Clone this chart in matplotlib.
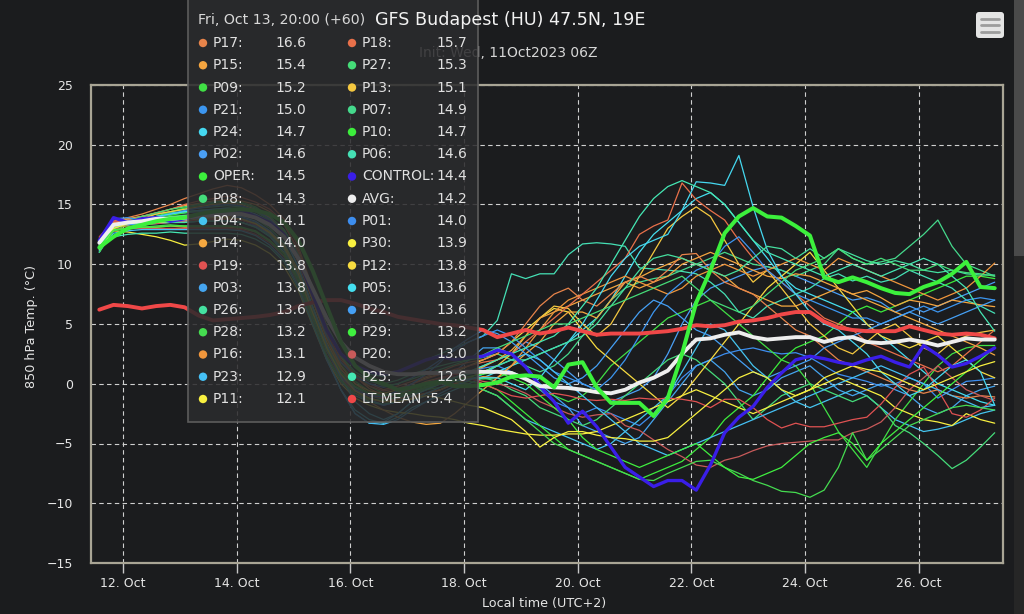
import matplotlib
matplotlib.use("Agg")
import matplotlib.pyplot as plt
import matplotlib.dates as mdates
from matplotlib.patches import Rectangle, FancyBboxPatch, Circle
from datetime import datetime, timedelta

# ---------------- data ----------------
init_local = datetime(2023, 10, 11, 8)          # 11 Oct 2023 06Z in UTC+2
lead_hours = list(range(6, 385, 6))            # +6h ... +384h
times = [init_local + timedelta(hours=h) for h in lead_hours]
tooltip_index = 9                               # +60h

P01 = [11.4, 13.6, 13.5, 13.7, 13.8, 13.8, 13.9, 14.0, 14.0, 14.0, 13.9, 13.5, 12.8, 11.6, 9.3, 6.0, 2.8, 0.5, -0.8, -1.5, -1.8, -1.5, -1.0, -0.5, 0.0, 0.5, 1.0, 1.3,
       1.5, 1.0, 0.5, -0.5, -1.5, -2.0, -2.5, -2.0, -2.5, -3.0, -3.5, -2.5, -1.0, 0.5, 1.5, 2.0, 2.5, 2.8, 3.0, 2.7, 2.5, 2.6, 2.2, 1.5, 0.8, 0.5, 0.2, -0.2, 0.0, 0.5, 0.0, -1.2, -0.5, 0.2, 0.3, 0.5]
P02 = [11.6, 13.5, 13.5, 13.8, 14.0, 14.2, 14.3, 14.4, 14.5, 14.6, 14.5, 14.1, 13.4, 12.2, 9.8, 6.5, 3.3, 1.0, -0.5, -1.3, -1.8, -1.5, -1.0, -0.5, 0.0, 0.5, 1.0, 1.5,
       2.0, 2.5, 3.5, 3.0, 2.0, 1.0, 0.0, -0.5, -1.5, -1.0, -0.5, 0.5, 2.5, 5.0, 7.0, 8.0, 8.5, 9.0, 9.5, 9.8, 9.5, 9.0, 8.5, 8.0, 7.5, 7.0, 7.2, 6.8, 6.0, 6.5, 6.0, 6.5, 7.0, 7.5, 8.0, 8.5]
P03 = [11.2, 13.2, 13.6, 13.5, 13.6, 13.6, 13.7, 13.7, 13.8, 13.8, 13.7, 13.3, 12.6, 11.5, 9.2, 6.0, 2.8, 0.6, -0.6, -1.2, -1.5, -1.2, -0.8, -0.3, 0.3, 1.0, 2.0, 3.0,
       3.0, 2.5, 1.5, 0.0, -1.0, -2.0, -3.5, -4.0, -4.5, -5.0, -4.5, -3.0, -1.5, 0.0, 1.5, 2.0, 1.0, -0.5, -1.0, -0.5, 0.5, 1.0, 1.5, 0.5, -0.5, -1.0, -0.5, 0.0, -0.5, -1.0, -2.0, -2.5, -2.0, -1.0, -0.5, -0.2]
P04 = [11.0, 13.0, 13.3, 13.5, 13.7, 13.9, 14.0, 14.0, 14.1, 14.1, 14.0, 13.6, 12.8, 11.5, 9.0, 5.5, 2.2, -0.5, -2.5, -3.3, -3.2, -2.5, -1.5, -1.0, -0.5, 0.0, 0.0, -0.5,
       -1.0, -2.0, -3.0, -3.5, -4.0, -4.5, -5.0, -5.5, -5.0, -4.0, -3.0, -2.0, -1.0, 1.0, 3.0, 5.0, 4.5, 3.0, 1.5, 0.5, -0.5, -1.5, -2.0, -1.5, -1.0, -0.5, -1.0, -2.0, -3.0, -3.5, -4.0, -3.8, -3.5, -3.0, -2.5, -2.2]
P05 = [11.6, 13.4, 13.4, 13.3, 13.4, 13.5, 13.5, 13.6, 13.6, 13.6, 13.5, 13.1, 12.3, 11.0, 8.5, 5.2, 2.0, -0.5, -2.2, -3.0, -3.3, -2.8, -2.0, -1.5, -1.0, -0.5, 0.0, 0.5,
       1.0, 1.5, 2.0, 2.5, 3.0, 3.5, 4.5, 5.5, 7.0, 9.0, 11.0, 12.5, 13.5, 14.5, 15.5, 16.0, 15.0, 13.5, 12.0, 10.5, 9.0, 8.0, 7.5, 7.0, 6.5, 6.0, 5.0, 4.0, 3.0, 2.0, 1.0, 0.0, -0.5, -1.0, -1.5, -1.8]
P06 = [11.7, 13.3, 13.7, 14.0, 14.2, 14.3, 14.4, 14.5, 14.5, 14.6, 14.6, 14.4, 13.9, 12.9, 10.9, 7.9, 4.9, 2.6, 1.4, 0.8, 0.6, 1.0, 1.5, 2.0, 2.5, 3.0, 3.5, 4.0,
       5.3, 9.2, 8.8, 9.2, 9.2, 10.8, 11.7, 11.8, 11.7, 11.5, 9.7, 9.6, 9.5, 9.4, 9.2, 8.5, 7.5, 6.0, 5.5, 6.5, 7.0, 7.5, 8.0, 8.8, 9.2, 8.6, 9.0, 8.5, 8.8, 9.5, 9.0, 8.5, 8.0, 7.0, 6.5, 5.9]
P07 = [11.8, 13.2, 13.8, 14.0, 14.2, 14.4, 14.6, 14.7, 14.8, 14.9, 14.8, 14.4, 13.7, 12.5, 10.3, 7.0, 4.0, 1.8, 0.8, 0.2, 0.0, 0.3, 0.8, 1.2, 1.5, 1.8, 2.0, 2.2,
       2.5, 2.0, 1.5, 1.0, 1.5, 2.5, 4.0, 5.5, 7.0, 8.0, 8.5, 8.8, 9.0, 9.5, 10.0, 10.5, 11.0, 10.5, 10.0, 9.8, 9.5, 9.0, 9.5, 10.0, 11.3, 10.5, 10.0, 10.2, 10.5, 11.5, 12.5, 13.7, 11.5, 10.0, 9.5, 9.0]
P08 = [11.5, 13.2, 13.4, 13.6, 13.8, 14.0, 14.1, 14.2, 14.3, 14.3, 14.2, 13.8, 13.0, 11.8, 9.5, 6.3, 3.2, 1.0, -0.3, -1.0, -1.3, -1.2, -0.8, -0.4, 0.0, 0.3, 0.5, 0.5,
       0.2, -0.5, -1.0, -2.0, -2.5, -3.0, -3.5, -3.0, -2.0, -1.0, 0.0, 1.0, 2.0, 2.5, 2.0, 1.0, 0.0, -1.5, -3.0, -2.0, -1.0, -0.5, 0.0, -0.5, -1.0, -1.5, -1.0, -2.0, -3.5, -4.1, -5.0, -6.0, -7.1, -6.4, -5.3, -4.1]
P09 = [11.2, 13.0, 13.5, 13.8, 14.0, 14.4, 14.7, 14.9, 15.1, 15.2, 15.2, 14.8, 14.0, 12.8, 10.5, 7.2, 4.0, 1.6, 0.2, -0.6, -1.0, -0.8, -0.5, -0.2, 0.0, 0.3, 0.5, 0.4,
       0.5, 1.0, 0.5, -0.5, -1.0, -1.5, -1.0, 0.0, 1.5, 2.5, 3.5, 4.5, 5.5, 6.0, 6.5, 7.0, 6.0, 5.0, 4.0, 3.0, 2.0, 1.5, 0.0, -2.0, -4.0, -5.5, -7.0, -5.0, -3.0, -1.5, 0.0, 1.5, 2.5, 3.0, 3.2, 3.2]
P10 = [11.3, 12.8, 13.3, 13.6, 13.9, 14.1, 14.3, 14.5, 14.6, 14.7, 14.7, 14.4, 13.8, 12.8, 10.8, 7.8, 4.8, 2.3, 0.8, -0.2, -0.8, -1.0, -0.8, -0.5, -0.3, 0.0, 0.2, 0.0,
       -0.5, -1.5, -2.5, -3.5, -4.5, -5.5, -6.0, -6.5, -7.0, -7.5, -8.0, -7.5, -7.0, -6.5, -5.5, -4.5, -3.0, -2.0, -1.0, 0.5, 2.0, 3.0, 3.5, 4.0, 5.0, 6.0, 6.5, 6.0, 6.5, 7.0, 7.5, 8.0, 8.5, 9.0, 9.0, 8.8]
P11 = [11.2, 12.8, 12.7, 12.5, 12.3, 12.0, 11.6, 11.7, 11.9, 12.1, 12.0, 11.6, 10.9, 9.8, 7.8, 4.9, 2.0, 0.0, -1.2, -1.8, -2.2, -2.4, -2.5, -2.7, -2.8, -3.0, -3.3, -3.5,
       -3.8, -4.0, -4.2, -4.3, -4.3, -4.2, -4.2, -4.0, -3.5, -3.0, -2.5, -2.0, -1.5, -1.0, -0.5, -1.0, -1.5, -2.0, -2.5, -2.0, -1.5, -1.0, -0.5, 0.0, 0.5, 0.0, -0.5, -1.0, -2.0, -2.5, -3.0, -3.2, -3.5, -2.5, -3.0, -3.3]
P12 = [11.6, 13.1, 13.6, 13.5, 13.5, 13.6, 13.6, 13.7, 13.7, 13.8, 13.7, 13.4, 12.7, 11.6, 9.5, 6.5, 3.5, 1.2, 0.0, -0.6, -0.8, -0.5, 0.0, 0.5, 0.8, 1.0, 1.5, 2.0,
       2.5, 3.5, 4.5, 5.5, 6.3, 6.0, 4.5, 3.0, 2.0, 1.0, 0.0, -1.0, -2.0, -1.0, 0.5, 2.0, 3.5, 5.0, 6.5, 8.0, 9.0, 10.0, 11.0, 9.5, 8.0, 6.5, 5.0, 4.0, 3.5, 3.0, 3.5, 4.0, 3.0, 2.0, 1.0, 0.5]
P13 = [12.2, 13.4, 13.6, 13.8, 14.2, 14.4, 14.6, 14.8, 15.0, 15.1, 15.0, 14.6, 13.9, 12.6, 10.2, 7.0, 3.8, 1.5, 0.0, -0.8, -1.2, -1.5, -1.2, -0.8, -0.5, 0.0, 0.5, 1.0,
       1.5, 2.5, 4.0, 5.5, 6.5, 6.3, 5.0, 4.0, 5.0, 7.0, 9.0, 11.0, 13.0, 14.0, 14.8, 14.0, 12.0, 10.0, 8.5, 9.5, 8.0, 6.5, 5.0, 4.0, 3.0, 2.5, 3.5, 4.5, 5.0, 4.0, 3.0, 2.5, 3.5, 4.0, 4.3, 4.5]
P14 = [12.0, 13.5, 13.3, 13.5, 13.6, 13.7, 13.8, 13.9, 14.0, 14.0, 14.1, 13.9, 13.4, 12.4, 10.2, 7.0, 3.8, 1.3, -0.5, -1.5, -2.2, -2.8, -3.2, -3.4, -3.3, -2.5, -1.5, -0.5,
       0.5, 1.5, 2.5, 3.5, 5.0, 6.0, 6.0, 5.5, 7.0, 8.5, 8.9, 9.5, 10.0, 10.5, 10.0, 9.5, 9.0, 8.0, 7.5, 7.0, 6.5, 6.5, 7.0, 7.5, 8.0, 7.5, 7.0, 6.5, 6.0, 5.5, 5.0, 4.5, 4.0, 3.5, 3.0, 2.4]
P15 = [12.0, 13.5, 13.8, 14.0, 14.3, 14.6, 14.9, 15.1, 15.3, 15.4, 15.3, 15.0, 14.4, 13.3, 11.2, 8.0, 4.8, 2.2, 0.6, -0.4, -1.0, -0.8, -0.3, 0.2, 0.5, 0.8, 1.0, 1.4,
       2.0, 2.8, 4.0, 5.5, 6.0, 6.5, 7.0, 7.5, 8.0, 8.5, 8.0, 8.5, 9.0, 10.0, 10.5, 11.0, 10.5, 10.0, 9.5, 9.0, 8.8, 9.2, 9.0, 8.5, 8.0, 7.5, 7.8, 7.2, 6.5, 7.0, 6.8, 6.5, 7.0, 6.8, 6.6, 6.45]
P16 = [11.9, 13.2, 13.2, 13.1, 13.1, 13.2, 13.1, 13.1, 13.1, 13.1, 13.0, 12.7, 12.0, 10.9, 8.8, 5.8, 2.9, 0.5, -0.8, -1.3, -1.5, -1.3, -1.0, -0.8, -0.5, 0.0, 0.3, 0.6,
       0.5, 1.5, 3.0, 4.5, 6.0, 7.0, 7.5, 8.0, 8.5, 9.0, 8.5, 8.0, 7.5, 8.0, 9.0, 9.5, 10.0, 9.5, 9.0, 9.5, 10.0, 10.5, 10.0, 9.5, 10.5, 10.0, 9.5, 9.0, 8.5, 8.0, 7.5, 7.0, 7.5, 8.0, 9.0, 10.1]
P17 = [11.8, 13.6, 13.9, 14.2, 14.6, 15.0, 15.5, 15.9, 16.3, 16.6, 16.4, 15.8, 15.0, 13.8, 11.5, 8.0, 4.5, 2.0, 0.8, 0.0, -0.5, -0.2, 0.2, 0.6, 1.0, 1.5, 1.8, 2.0,
       2.5, 3.5, 5.0, 6.5, 7.5, 8.0, 7.0, 6.5, 7.5, 8.5, 9.0, 8.5, 9.5, 10.8, 10.9, 9.5, 8.5, 8.0, 7.5, 6.5, 5.5, 4.5, 4.0, 3.0, 2.0, 1.5, 1.0, 0.5, 0.0, -0.5, -0.8, -0.5, -1.0, -1.2, -1.0, -1.1]
P18 = [11.5, 13.4, 13.7, 14.0, 14.3, 14.6, 15.0, 15.3, 15.5, 15.7, 15.6, 15.2, 14.6, 13.5, 11.0, 7.5, 4.2, 1.8, 0.5, -0.2, -0.6, -0.4, 0.0, 0.4, 0.8, 1.2, 1.5, 1.8,
       2.0, 2.5, 3.5, 4.5, 5.5, 6.5, 7.5, 8.5, 9.5, 10.5, 12.5, 13.2, 13.7, 16.8, 15.4, 14.5, 13.7, 12.0, 10.5, 9.5, 8.5, 7.5, 6.5, 5.5, 5.0, 4.5, 3.5, 3.0, 2.5, 2.0, 1.5, 1.0, 1.5, 2.5, 3.5, 4.5]
P19 = [12.3, 13.6, 13.4, 13.3, 13.4, 13.5, 13.6, 13.7, 13.8, 13.8, 13.7, 13.3, 12.5, 11.3, 9.0, 5.8, 2.7, 0.6, -0.5, -1.0, -1.2, -0.9, -0.5, 0.0, 0.5, 0.8, 0.5, 0.0,
       -0.5, -1.0, -1.2, -1.0, -0.8, -1.0, -1.3, -1.4, -1.3, -1.4, -1.2, -1.3, -1.2, -1.3, -1.5, -2.0, -1.3, -1.3, -2.0, -3.0, -3.7, -3.3, -3.6, -3.6, -3.3, -3.0, -2.8, -1.7, -0.3, 0.8, 1.4, -0.5, -2.5, -2.8, -2.2, -1.2]
P20 = [11.7, 13.0, 13.0, 13.0, 13.0, 13.0, 13.0, 13.0, 13.0, 13.0, 12.9, 12.5, 11.8, 10.6, 8.4, 5.3, 2.4, 0.4, -0.6, -1.0, -1.0, -0.7, -0.3, 0.1, 0.4, 0.6, 0.5, 0.2,
       0.0, -0.3, -0.8, -1.5, -2.0, -2.5, -2.8, -2.6, -2.5, -3.5, -3.9, -4.7, -5.5, -6.1, -6.8, -7.0, -6.4, -6.1, -5.6, -5.2, -5.0, -4.9, -4.8, -4.7, -4.7, -4.1, -3.8, -3.2, -2.0, -0.5, 0.5, 1.5, 0.5, -0.5, -1.0, -1.4]
P21 = [11.0, 13.8, 13.9, 13.7, 13.9, 14.2, 14.5, 14.7, 14.9, 15.0, 14.9, 14.5, 13.8, 12.6, 10.4, 7.3, 4.0, 1.8, 0.6, 0.0, -0.3, 0.0, 0.5, 1.2, 2.0, 2.8, 3.5, 4.0,
       4.5, 4.0, 3.0, 2.0, 1.0, 0.5, 0.0, -0.5, 0.5, 2.0, 4.0, 6.0, 7.5, 8.5, 9.5, 10.0, 11.5, 12.3, 11.0, 9.5, 8.5, 7.5, 7.0, 6.5, 6.0, 5.5, 5.5, 5.0, 5.5, 6.0, 6.5, 6.0, 6.5, 7.0, 7.2, 7.0]
P22 = [11.4, 13.4, 13.3, 13.4, 13.5, 13.5, 13.5, 13.6, 13.6, 13.6, 13.5, 13.2, 12.5, 11.3, 9.0, 5.8, 2.8, 0.6, -0.5, -1.0, -1.1, -0.6, 0.0, 0.8, 1.8, 3.0, 3.8, 4.5,
       4.2, 3.5, 2.5, 1.5, 0.5, 0.0, 0.5, 1.5, 3.0, 4.5, 6.0, 7.0, 6.5, 5.5, 4.5, 4.0, 3.0, 2.0, 1.0, 0.5, 1.0, 1.5, 2.0, 3.0, 3.5, 4.0, 4.5, 5.0, 5.5, 6.0, 5.5, 5.0, 5.5, 6.0, 6.5, 7.0]
P23 = [11.1, 12.6, 12.8, 12.9, 12.9, 12.9, 12.9, 12.9, 12.9, 12.9, 12.8, 12.4, 11.6, 10.4, 8.2, 5.0, 2.0, -0.5, -2.5, -3.3, -3.4, -3.0, -2.2, -1.5, -0.8, -0.2, 0.3, 0.8,
       1.5, 2.0, 2.5, 2.0, 1.0, 0.0, -1.0, -2.0, -3.0, -4.0, -5.0, -5.5, -6.0, -5.5, -5.0, -4.5, -4.0, -3.5, -3.0, -2.5, -2.0, -1.5, -1.0, -0.5, 0.0, 0.5, 1.0, 1.5, 1.0, 0.5, 0.0, -0.5, -1.0, -1.5, -2.0, -1.8]
P24 = [11.4, 13.0, 13.5, 13.8, 14.0, 14.2, 14.4, 14.5, 14.6, 14.7, 14.6, 14.2, 13.6, 12.3, 9.8, 6.5, 3.2, 0.5, -1.5, -2.5, -3.0, -2.5, -1.5, -0.8, -0.3, 0.2, 0.4, 0.5,
       0.5, 0.0, -0.5, 0.5, 2.0, 3.5, 5.0, 7.0, 9.0, 10.5, 11.5, 12.0, 12.5, 14.5, 16.9, 16.8, 16.6, 19.1, 14.8, 11.2, 9.0, 7.5, 6.0, 5.0, 4.5, 3.5, 2.5, 1.0, 0.0, -1.0, -0.5, 0.5, 1.5, 2.0, 1.0, -1.8]
P25 = [11.3, 12.3, 12.5, 12.6, 12.6, 12.7, 12.6, 12.6, 12.6, 12.6, 12.5, 12.1, 11.4, 10.2, 8.0, 5.0, 2.2, 0.2, -1.0, -1.5, -1.7, -1.5, -1.0, -0.5, 0.0, 0.5, 1.0, 1.5,
       2.0, 2.5, 3.0, 3.5, 4.0, 5.0, 6.5, 8.0, 10.0, 12.0, 14.0, 15.5, 16.5, 17.0, 16.5, 16.0, 15.0, 13.5, 12.0, 11.0, 10.5, 10.0, 9.5, 9.0, 9.5, 10.0, 9.5, 9.0, 9.5, 10.0, 10.5, 10.0, 9.0, 8.0, 6.0, 4.4]
P26 = [11.8, 13.0, 13.5, 13.4, 13.5, 13.5, 13.5, 13.6, 13.6, 13.6, 13.5, 13.1, 12.4, 11.2, 8.9, 5.8, 2.8, 0.8, -0.3, -0.8, -1.0, -0.8, -0.4, 0.0, 0.3, 0.5, 0.8, 1.0,
       1.5, 2.0, 2.0, 2.5, 3.0, 3.5, 4.0, 5.0, 6.5, 8.0, 9.5, 10.5, 10.8, 10.5, 10.0, 9.5, 9.0, 9.5, 10.5, 11.5, 11.3, 10.5, 11.3, 10.5, 11.3, 10.8, 10.3, 10.0, 10.3, 10.0, 9.5, 9.3, 9.5, 9.2, 9.1, 9.1]
P27 = [11.6, 13.3, 13.6, 14.0, 14.3, 14.6, 14.8, 15.0, 15.2, 15.3, 15.1, 14.7, 14.0, 12.9, 10.8, 7.8, 4.6, 2.3, 1.0, 0.3, -0.2, 0.0, 0.4, 0.8, 1.2, 1.6, 2.0, 2.4,
       3.0, 3.5, 4.0, 4.5, 5.0, 5.0, 5.5, 6.0, 6.5, 7.0, 7.5, 8.0, 8.5, 9.0, 8.0, 7.0, 6.5, 6.0, 6.5, 7.5, 8.5, 9.5, 10.0, 10.5, 11.3, 10.5, 10.0, 10.5, 10.0, 9.5, 9.5, 10.0, 9.5, 9.3, 9.2, 9.0]
P28 = [11.0, 12.8, 13.0, 13.1, 13.2, 13.3, 13.2, 13.2, 13.2, 13.2, 13.1, 12.7, 11.9, 10.7, 8.5, 5.4, 2.4, 0.3, -0.8, -1.3, -1.4, -1.1, -0.7, -0.3, 0.0, 0.2, 0.0, -0.5,
       -1.0, -2.0, -3.0, -4.0, -5.0, -5.5, -6.0, -6.5, -7.0, -7.5, -8.0, -8.1, -7.5, -7.0, -6.5, -6.4, -7.0, -7.5, -8.1, -8.5, -9.0, -9.1, -9.5, -8.9, -7.0, -4.1, -6.4, -5.5, -4.5, -3.5, -3.0, -2.5, -2.0, -1.8, -2.0, -2.2]
P29 = [11.5, 12.9, 13.0, 13.1, 13.1, 13.2, 13.2, 13.2, 13.2, 13.2, 13.1, 12.8, 12.0, 10.9, 8.8, 5.8, 2.9, 0.9, -0.2, -0.8, -1.0, -0.9, -0.6, -0.3, 0.0, 0.3, 0.6, 0.8,
       1.0, 0.5, 0.0, -1.0, -2.0, -3.0, -4.5, -5.5, -6.0, -6.5, -7.0, -6.5, -6.0, -5.5, -5.0, -6.0, -7.0, -7.8, -8.0, -7.5, -7.0, -6.0, -5.0, -4.5, -4.1, -5.0, -6.4, -5.0, -4.0, -3.0, -2.0, -1.0, 0.0, 1.0, 2.0, 3.0]
P30 = [11.9, 13.0, 13.4, 13.6, 13.5, 13.6, 13.7, 13.8, 13.9, 13.9, 13.8, 13.4, 12.6, 11.4, 9.2, 6.0, 3.0, 0.8, -0.6, -1.2, -1.5, -1.5, -1.3, -1.0, -1.2, -1.5, -1.8, -2.0,
       -2.5, -3.0, -4.0, -5.3, -4.5, -4.0, -4.0, -4.3, -4.5, -4.6, -4.8, -4.8, -4.5, -3.5, -2.5, -1.5, -0.5, 0.5, 1.0, 0.5, -0.5, -1.0, -0.5, 0.5, 1.0, 1.5, 1.2, 1.0, 0.5, 0.0, -0.5, 0.0, 0.5, 1.0, 1.5, 1.85]

OPER = [11.4, 12.3, 13.0, 13.3, 13.6, 13.8, 13.9, 14.2, 14.4, 14.5, 14.6, 14.5, 14.2, 13.5, 12.0, 9.5, 6.5, 3.5, 1.5, 0.5,
        0.0, -0.5, -0.3, 0.0, 0.2, -0.2, -0.2, -0.1, 0.1, 0.6, 0.7, 0.6, -0.3, 1.6, 1.8, -0.3, -1.6, -1.6, -1.6, -2.7,
        -1.2, 2.5, 6.8, 9.5, 12.6, 14.0, 14.7, 14.0, 13.9, 13.2, 12.4, 8.9, 8.5, 8.9, 8.5, 8.0, 7.6, 7.5, 8.1, 8.5,
        9.2, 10.2, 8.1, 8.0]
CONTROL = [12.0, 13.9, 13.5, 13.8, 13.9, 13.6, 13.8, 14.0, 14.3, 14.4, 14.5, 14.0, 13.5, 12.5, 10.5, 7.5, 4.5, 2.5, 1.5, 1.0,
           0.8, 1.0, 1.5, 2.0, 2.3, 2.0, 2.2, 2.3, 2.8, 2.5, 1.4, -0.2, -1.5, -3.3, -2.3, -3.6, -5.3, -7.0, -7.8, -8.6,
           -8.1, -8.1, -8.9, -6.8, -4.1, -2.8, -1.9, -0.3, 0.9, 2.0, 2.3, 2.1, 1.8, 1.6, 2.0, 2.3, 1.8, 1.4, 3.2, 2.4,
           1.4, 1.7, 2.3, 3.0]
AVG = [11.8, 13.3, 13.5, 13.6, 13.8, 13.8, 13.9, 14.0, 14.1, 14.2, 14.2, 13.9, 13.3, 12.3, 10.5, 8.0, 5.5, 3.5, 2.2, 1.5,
       1.0, 0.8, 0.8, 0.9, 0.9, 1.0, 1.0, 1.0, 1.0, 0.9, 0.4, -0.2, -0.3, -0.35, -0.5, -0.7, -0.8, -0.5, 0.1, 0.5,
       1.1, 2.5, 3.7, 3.8, 4.1, 4.3, 3.9, 3.7, 3.8, 3.9, 3.9, 3.5, 3.8, 3.9, 3.5, 3.4, 3.5, 3.7, 3.5, 3.2,
       3.5, 3.8, 3.7, 3.7]
LT_MEAN = [6.2, 6.6, 6.5, 6.3, 6.5, 6.6, 6.4, 5.7, 5.3, 5.4, 5.5, 5.6, 5.75, 6.0, 6.5, 6.8, 7.0, 7.0, 6.7, 6.3,
           6.0, 5.6, 5.4, 5.2, 5.0, 4.9, 4.7, 4.5, 3.9, 4.2, 4.5, 4.2, 4.4, 4.7, 4.4, 4.1, 4.2, 4.2, 4.2, 4.3,
           4.4, 4.6, 4.9, 4.8, 4.9, 5.2, 5.3, 5.5, 5.8, 6.0, 6.0, 5.2, 4.7, 4.5, 4.4, 4.4, 4.4, 4.8, 4.5, 4.2,
           4.1, 4.2, 4.1, 3.8]

members = {"P01": P01, "P02": P02, "P03": P03, "P04": P04, "P05": P05, "P06": P06, "P07": P07, "P08": P08,
           "P09": P09, "P10": P10, "P11": P11, "P12": P12, "P13": P13, "P14": P14, "P15": P15, "P16": P16,
           "P17": P17, "P18": P18, "P19": P19, "P20": P20, "P21": P21, "P22": P22, "P23": P23, "P24": P24,
           "P25": P25, "P26": P26, "P27": P27, "P28": P28, "P29": P29, "P30": P30}
specials = {"OPER": OPER, "CONTROL": CONTROL, "AVG": AVG, "LT MEAN": LT_MEAN}

tooltip_rows = [("P17", "P18"), ("P15", "P27"), ("P09", "P13"), ("P21", "P07"), ("P24", "P10"),
                ("P02", "P06"), ("OPER", "CONTROL"), ("P08", "AVG"), ("P04", "P01"), ("P14", "P30"),
                ("P19", "P12"), ("P03", "P05"), ("P26", "P22"), ("P28", "P29"), ("P16", "P20"),
                ("P23", "P25"), ("P11", "LT MEAN")]

# ---------------- styles ----------------
colors = {
    "P01": "#3d8ef0", "P02": "#4a9ff5", "P03": "#45a5f0", "P04": "#45c5f0", "P05": "#45dff0",
    "P06": "#45e0b5", "P07": "#45d98c", "P08": "#45dc7a", "P09": "#40e045", "P10": "#3ced3c",
    "P11": "#f8f040", "P12": "#f8dc40", "P13": "#f5c840", "P14": "#f5a840", "P15": "#f5a540",
    "P16": "#f0963c", "P17": "#e8844a", "P18": "#e8704a", "P19": "#e05252", "P20": "#c85a5a",
    "P21": "#3c96f0", "P22": "#45a0f5", "P23": "#45c0f5", "P24": "#45d8f0", "P25": "#45e8b4",
    "P26": "#45e0a0", "P27": "#45dc78", "P28": "#45dc50", "P29": "#40f040", "P30": "#f8f040",
    "OPER": "#3cf03c", "CONTROL": "#3a1ee8", "AVG": "#eeeeee", "LT MEAN": "#f04848",
}
BG = "#1b1c1e"
W, H = 1024, 614

fig = plt.figure(figsize=(W / 100, H / 100), dpi=100, facecolor=BG)
ax = fig.add_axes([91 / W, 1 - 563 / H, (1003 - 91) / W, (563 - 85) / H])
ax.set_facecolor(BG)

line_kw = dict(solid_joinstyle="round", solid_capstyle="round")
for name, vals in members.items():
    ax.plot(times[:len(vals)], vals, color=colors[name], lw=0.9, zorder=2, **line_kw)
ax.plot(times[:len(LT_MEAN)], LT_MEAN, color=colors["LT MEAN"], lw=2.8, zorder=3, **line_kw)
ax.plot(times[:len(CONTROL)], CONTROL, color=colors["CONTROL"], lw=2.4, zorder=4, **line_kw)
ax.plot(times[:len(AVG)], AVG, color=colors["AVG"], lw=2.8, zorder=5, **line_kw)
ax.plot(times[:len(OPER)], OPER, color=colors["OPER"], lw=2.9, zorder=6, **line_kw)

ax.set_ylim(-15, 25)
ax.set_yticks(range(-15, 26, 5))
ax.set_xlim(datetime(2023, 10, 11, 10, 30), datetime(2023, 10, 27, 11, 30))
ax.xaxis.set_major_locator(mdates.DayLocator(bymonthday=range(12, 28, 2)))
ax.xaxis.set_major_formatter(mdates.DateFormatter("%d. %b"))
ax.set_axisbelow(True)
ax.grid(True, color="#d0d0d0", linestyle=(0, (4, 3)), linewidth=0.8)
ax.tick_params(axis="y", length=0, pad=13, labelcolor="#e6e6e6", labelsize=9)
ax.tick_params(axis="x", length=7, width=1, color="#c8c8c8", pad=3, labelcolor="#e6e6e6", labelsize=9)
for sp in ax.spines.values():
    sp.set_color("#a9a595")
    sp.set_linewidth(1.6)

# ---------------- overlay (pixel coordinates) ----------------
ov = fig.add_axes([0, 0, 1, 1], zorder=10)
ov.set_xlim(0, W)
ov.set_ylim(H, 0)
ov.axis("off")
ov.patch.set_alpha(0)

ov.text(32, 326, "850 hPa Temp. (°C)", rotation=90, ha="center", va="center", fontsize=9.2, color="#e6e6e6")
ov.text(544, 604, "Local time (UTC+2)", ha="center", va="center", fontsize=9.2, color="#e6e6e6")

ov.text(508, 53, "Init: Wed, 11Oct2023 06Z", ha="center", va="center", fontsize=10, color="#d6d6d6", zorder=1)

ov.add_patch(Rectangle((188, -2), 290, 424, facecolor=(0.168, 0.17, 0.178, 0.87),
                       edgecolor="#5c5c5c", lw=1.2, zorder=2))
ov.text(510, 20, "GFS Budapest (HU) 47.5N, 19E", ha="center", va="center", fontsize=12.6, color="#f2f2f2", zorder=3)

t9 = times[tooltip_index]
header = t9.strftime("%a, %b %d, %H:%M") + f" (+{lead_hours[tooltip_index]})"
ov.text(198, 20, header, ha="left", va="center", fontsize=10.2, color="#d8d8d8", zorder=4)

allser = dict(members)
allser.update(specials)
for k, (left, right) in enumerate(tooltip_rows):
    y = 43 + 22.25 * k
    for name, dx, vx in ((left, 203, 275), (right, 352, 436)):
        ov.add_patch(Circle((dx, y), 4.2, facecolor=colors[name], edgecolor="none", zorder=4))
        val = allser[name][tooltip_index]
        if name == "LT MEAN":
            ov.text(dx + 10, y, f"LT MEAN :{val:.1f}", ha="left", va="center", fontsize=10, color="#e0e0e0", zorder=4)
        else:
            ov.text(dx + 10, y, name + ":", ha="left", va="center", fontsize=10, color="#e0e0e0", zorder=4)
            ov.text(vx, y, f"{val:.1f}", ha="left", va="center", fontsize=10, color="#e0e0e0", zorder=4)

# menu button
ov.add_patch(FancyBboxPatch((976, 12), 28, 26, boxstyle="round,pad=0,rounding_size=3",
                            facecolor="#e4e4e4", edgecolor="none", zorder=4))
for yy in (18.5, 25, 31.5):
    ov.plot([981, 999], [yy, yy], color="#9c9c9c", lw=2, solid_capstyle="round", zorder=5)

# scrollbar strip at right edge
ov.add_patch(Rectangle((1014, 0), 10, 256, facecolor="#4a4a4a", edgecolor="none", zorder=4))
ov.add_patch(Rectangle((1014, 256), 10, 358, facecolor="#262626", edgecolor="none", zorder=4))

fig.savefig("out.png", dpi=100, facecolor=BG)
